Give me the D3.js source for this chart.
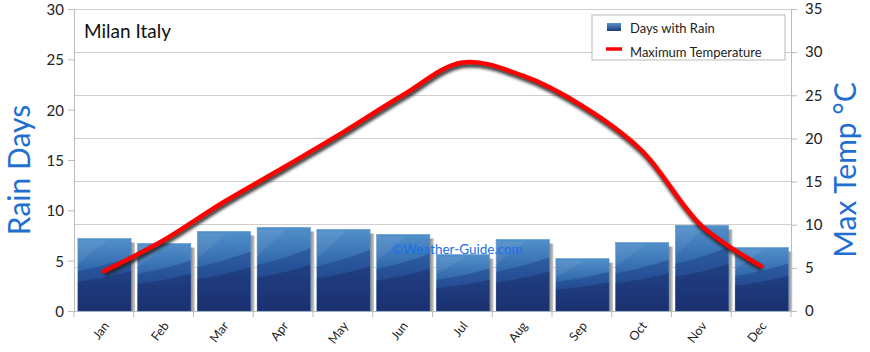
<!DOCTYPE html>
<html>
<head>
<meta charset="utf-8">
<script src="https://cdn.jsdelivr.net/npm/d3@7"></script>
<style>
  body { margin: 0; background: #fff; }
  svg { display: block; }
</style>
</head>
<body>
<div id="chart"></div>
<script>
const months = ['Jan', 'Feb', 'Mar', 'Apr', 'May', 'Jun', 'Jul', 'Aug', 'Sep', 'Oct', 'Nov', 'Dec'];
const rainDays = [7.2, 6.7, 7.9, 8.3, 8.1, 7.6, 5.6, 7.1, 5.2, 6.8, 8.5, 6.3];
const maxTemp = [4.6, 8.2, 12.6, 16.6, 20.7, 25.0, 28.8, 27.3, 23.8, 18.6, 9.9, 5.2];
const rainTicks = [0, 5, 10, 15, 20, 25, 30];
const tempTicks = [0, 5, 10, 15, 20, 25, 30, 35];

const width = 870, height = 352;
const margins = {left: 74, right: 79, top: 9, bottom: 41};
const chartWidth = width - margins.left - margins.right;
const chartHeight = height - margins.top - margins.bottom;
const font = 'Lato, "DejaVu Sans", sans-serif';
const titleBlue = '#1f6fd0';

const svg = d3.select('#chart')
  .append('svg')
  .attr('width', width)
  .attr('height', height)
  .append('g')
  .attr('transform', 'translate(' + margins.left + ',' + margins.top + ')');

const x = d3.scaleBand().domain(months).range([0, chartWidth]).padding(0);
const yRain = d3.scaleLinear().domain([0, 30]).range([chartHeight, 0]);
const yTemp = d3.scaleLinear().domain([0, 35]).range([chartHeight, 0]);

// gradients
const defs = svg.append('defs');
const barGrad = defs.append('linearGradient').attr('id', 'barGrad')
  .attr('x1', 0).attr('y1', 0).attr('x2', 0).attr('y2', 1);
barGrad.append('stop').attr('offset', '0%').attr('stop-color', '#5190ca');
barGrad.append('stop').attr('offset', '45%').attr('stop-color', '#3066ab');
barGrad.append('stop').attr('offset', '100%').attr('stop-color', '#1b2e6c');
const shadowGrad = defs.append('linearGradient').attr('id', 'shadowGrad')
  .attr('x1', 0).attr('y1', 0).attr('x2', 1).attr('y2', 0);
shadowGrad.append('stop').attr('offset', '0%').attr('stop-color', '#777');
shadowGrad.append('stop').attr('offset', '100%').attr('stop-color', '#ccc');
const legendGrad = defs.append('linearGradient').attr('id', 'legendGrad')
  .attr('x1', 0).attr('y1', 0).attr('x2', 0).attr('y2', 1);
legendGrad.append('stop').attr('offset', '0%').attr('stop-color', '#5a93c9');
legendGrad.append('stop').attr('offset', '100%').attr('stop-color', '#1f3a7a');
const blur = defs.append('filter').attr('id', 'blur')
  .attr('x', '-5%').attr('y', '-20%').attr('width', '110%').attr('height', '140%');
blur.append('feGaussianBlur').attr('stdDeviation', 1.5);

// gridlines follow the temperature axis
svg.append('g')
  .selectAll('line')
  .data(tempTicks)
  .join('line')
  .attr('x1', 0).attr('x2', chartWidth)
  .attr('y1', d => yTemp(d)).attr('y2', d => yTemp(d))
  .attr('stroke', '#cfcfcf').attr('stroke-width', 1)
  .attr('shape-rendering', 'crispEdges');

// axes
const leftAxis = svg.append('g')
  .call(d3.axisLeft(yRain).tickValues(rainTicks).tickSize(6).tickPadding(4));
const rightAxis = svg.append('g')
  .attr('transform', 'translate(' + chartWidth + ',0)')
  .call(d3.axisRight(yTemp).tickValues(tempTicks).tickSize(6).tickPadding(8));
const bottomAxis = svg.append('g')
  .attr('transform', 'translate(0,' + chartHeight + ')')
  .call(d3.axisBottom(x).tickSize(0).tickFormat(''));
bottomAxis.selectAll('.boundary')
  .data(d3.range(months.length + 1))
  .join('line')
  .attr('class', 'boundary')
  .attr('x1', i => i * x.step()).attr('x2', i => i * x.step())
  .attr('y1', 0).attr('y2', 6)
  .attr('stroke', '#bbb');

[leftAxis, rightAxis, bottomAxis].forEach(a => {
  a.selectAll('path').attr('stroke', '#bbb');
  a.selectAll('.tick line').attr('stroke', '#bbb');
  a.selectAll('.tick text')
    .attr('font-family', font)
    .attr('font-size', 15)
    .attr('fill', '#222');
});
leftAxis.selectAll('.tick text').attr('dy', '0.36em');

// month labels
bottomAxis.selectAll('.month')
  .data(months)
  .join('text')
  .attr('class', 'month')
  .attr('transform', d => 'translate(' + (x(d) + x.bandwidth() / 2 + 6) + ',15) rotate(-52)')
  .attr('text-anchor', 'end')
  .attr('font-family', font)
  .attr('font-size', 12.5)
  .attr('fill', '#222')
  .text(d => d);

// bars
const barW = x.bandwidth() * 0.89;
const barOff = x.bandwidth() * 0.065;
const bars = svg.append('g')
  .selectAll('g')
  .data(months.map((m, i) => ({m, v: rainDays[i]})))
  .join('g')
  .attr('transform', d => 'translate(' + (x(d.m) + barOff) + ',0)');

bars.append('rect')
  .attr('x', barW - 1).attr('y', d => yRain(d.v) + 4)
  .attr('width', 5).attr('height', d => chartHeight - yRain(d.v) - 4)
  .attr('fill', 'url(#shadowGrad)');
bars.append('rect')
  .attr('x', 0).attr('y', d => yRain(d.v))
  .attr('width', barW).attr('height', d => chartHeight - yRain(d.v))
  .attr('fill', 'url(#barGrad)')
  .attr('stroke', '#5b94cc').attr('stroke-width', 0.6);
// soft layered sheen
bars.append('path')
  .attr('d', d => {
    const top = yRain(d.v), h = chartHeight - top;
    return 'M0,' + (top + h * 0.45) + ' Q' + barW * 0.5 + ',' + (top + h * 0.38) + ' ' + barW + ',' + (top + h * 0.25) +
      ' L' + barW + ',' + chartHeight + ' L0,' + chartHeight + 'Z';
  })
  .attr('fill', '#1d3b84').attr('opacity', 0.45);
bars.append('path')
  .attr('d', d => {
    const top = yRain(d.v), h = chartHeight - top;
    return 'M0,' + (top + h * 0.6) + ' Q' + barW * 0.5 + ',' + (top + h * 0.55) + ' ' + barW + ',' + (top + h * 0.45) +
      ' L' + barW + ',' + chartHeight + ' L0,' + chartHeight + 'Z';
  })
  .attr('fill', '#1a2c6a').attr('opacity', 0.5);
bars.append('path')
  .attr('d', d => {
    const top = yRain(d.v), h = chartHeight - top;
    return 'M0,' + (top + 2) + ' L' + barW * 0.55 + ',' + (top + 2) + ' L0,' + (top + h * 0.35) + 'Z';
  })
  .attr('fill', '#ffffff').attr('opacity', 0.07);

// watermark
svg.append('text')
  .attr('x', x('Jun') + x.bandwidth() * 0.32).attr('y', yRain(5.65))
  .attr('font-family', font)
  .attr('font-size', 13.5)
  .attr('fill', '#1a6fe6')
  .text('©Weather-Guide.com');

// temperature line
const tempData = months.map((m, i) => ({m, v: maxTemp[i]}));
const line = d3.line()
  .curve(d3.curveCatmullRom.alpha(0.5))
  .x(d => x(d.m) + x.bandwidth() / 2)
  .y(d => yTemp(d.v));

svg.append('path')
  .datum(tempData)
  .attr('d', line)
  .attr('transform', 'translate(1,3)')
  .attr('fill', 'none')
  .attr('stroke', '#222')
  .attr('stroke-width', 5)
  .attr('opacity', 0.85)
  .attr('filter', 'url(#blur)');
svg.append('path')
  .datum(tempData)
  .attr('d', line)
  .attr('fill', 'none')
  .attr('stroke', '#ff0000')
  .attr('stroke-width', 4.5)
  .attr('stroke-linecap', 'round');

// title
svg.append('text')
  .attr('x', 10).attr('y', 29)
  .attr('font-family', font)
  .attr('font-size', 19)
  .attr('fill', '#111')
  .text('Milan Italy');

// legend
const legend = svg.append('g').attr('transform', 'translate(' + (chartWidth - 199) + ',6)');
legend.append('rect')
  .attr('width', 193).attr('height', 45)
  .attr('fill', '#fff').attr('stroke', '#bbb');
legend.append('rect')
  .attr('x', 15).attr('y', 8).attr('width', 14).attr('height', 8)
  .attr('fill', 'url(#legendGrad)');
legend.append('line')
  .attr('x1', 14).attr('x2', 30).attr('y1', 34).attr('y2', 34)
  .attr('stroke', '#ff0000').attr('stroke-width', 3.5);
legend.selectAll('.ltext')
  .data(['Days with Rain', 'Maximum Temperature'])
  .join('text')
  .attr('class', 'ltext')
  .attr('x', 38).attr('y', (d, i) => 18 + i * 24)
  .attr('font-family', font)
  .attr('font-size', 13)
  .attr('fill', '#222')
  .text(d => d);

// axis titles
svg.append('text')
  .attr('transform', 'translate(' + (-44) + ',' + (chartHeight / 2 + 10) + ') rotate(-90)')
  .attr('text-anchor', 'middle')
  .attr('font-family', font)
  .attr('font-size', 30)
  .attr('fill', titleBlue)
  .text('Rain Days');
svg.append('text')
  .attr('transform', 'translate(' + (chartWidth + 65) + ',' + (chartHeight / 2 + 10) + ') rotate(-90)')
  .attr('text-anchor', 'middle')
  .attr('font-family', font)
  .attr('font-size', 30)
  .attr('fill', titleBlue)
  .text('Max Temp °C');
</script>
</body>
</html>
